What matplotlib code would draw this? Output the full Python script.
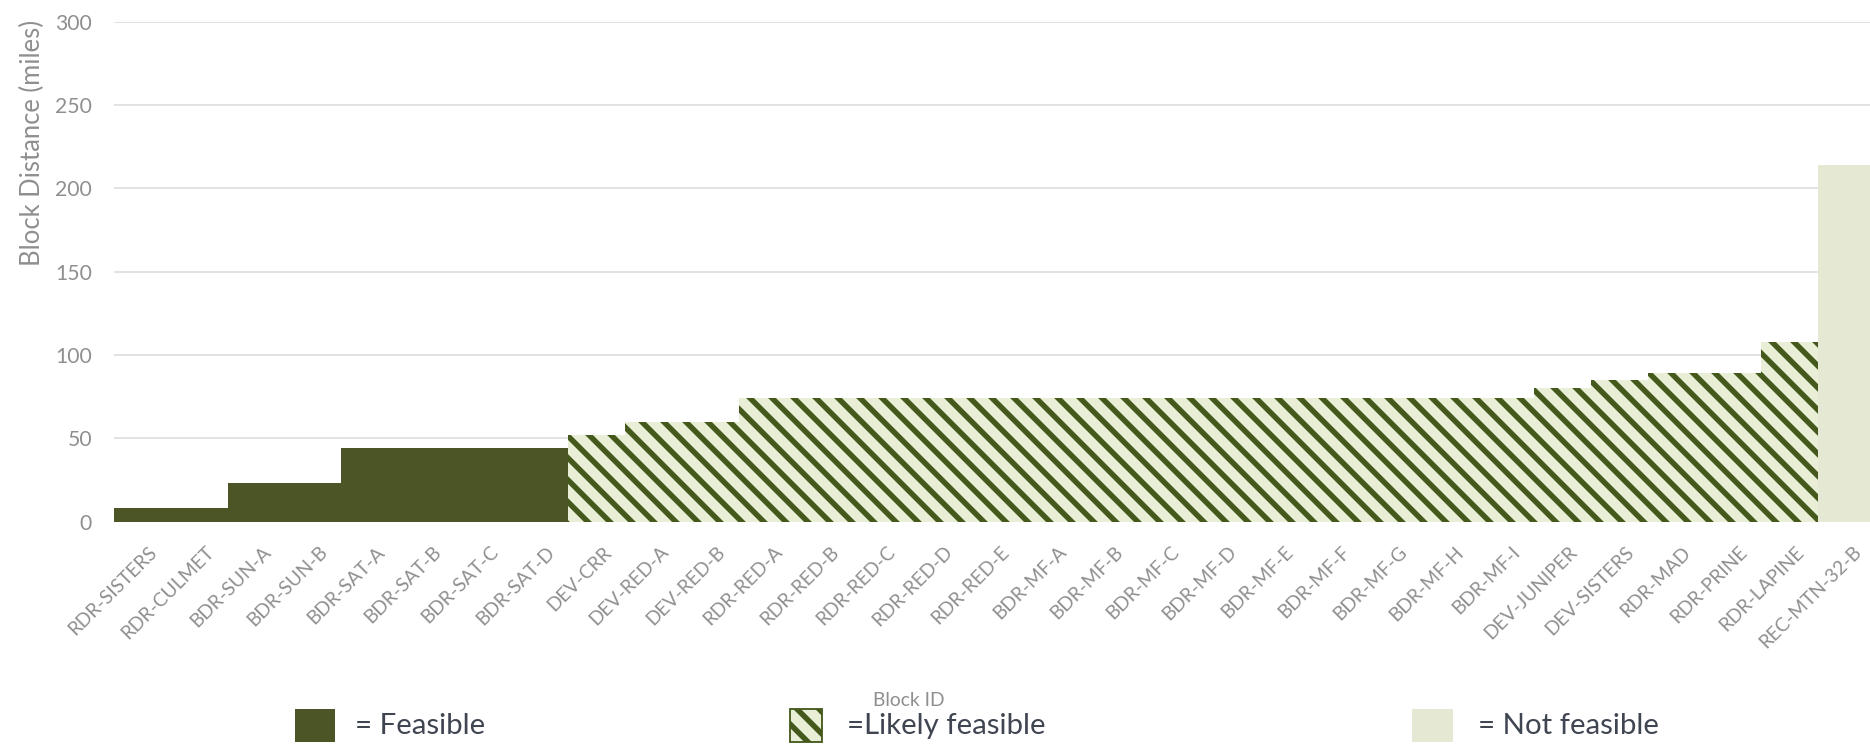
import numpy as np
import matplotlib
matplotlib.use("Agg")
import matplotlib.pyplot as plt
from matplotlib.patches import Rectangle
from matplotlib.transforms import ScaledTranslation

# figure is 1870 x 744 px; dpi picked so the '\\' hatch repeats every ~22 px
DPI = 132
W, H = 1870, 744

plt.rcParams['font.family'] = ['Lato', 'DejaVu Sans']
plt.rcParams['hatch.linewidth'] = 3.0

# -------------------------
# data
# -------------------------
blocks = [
    "RDR-SISTERS", "RDR-CULMET", "BDR-SUN-A", "BDR-SUN-B",
    "BDR-SAT-A", "BDR-SAT-B", "BDR-SAT-C", "BDR-SAT-D",
    "DEV-CRR", "DEV-RED-A", "DEV-RED-B",
    "RDR-RED-A", "RDR-RED-B", "RDR-RED-C", "RDR-RED-D", "RDR-RED-E",
    "BDR-MF-A", "BDR-MF-B", "BDR-MF-C", "BDR-MF-D", "BDR-MF-E",
    "BDR-MF-F", "BDR-MF-G", "BDR-MF-H", "BDR-MF-I",
    "DEV-JUNIPER", "DEV-SISTERS", "RDR-MAD", "RDR-PRINE", "RDR-LAPINE",
    "REC-MTN-32-B",
]
distance = [
    8, 8, 23, 23,
    44, 44, 44, 44,
    52, 60, 60,
    74, 74, 74, 74, 74,
    74, 74, 74, 74, 74,
    74, 74, 74, 74,
    80, 85, 89, 89, 108,
    214,
]
status = (["feasible"] * 8) + (["likely"] * 22) + ["not"]

yticks = [0, 50, 100, 150, 200, 250, 300]

# fill, hatch colour, hatch
styles = {
    "feasible": ("#4b5525", "#4b5525", None),
    "likely": ("#e8efd6", "#44591b", "\\\\"),
    "not": ("#e5e9d3", "#e5e9d3", None),
}

grey = "#8f8f8f"
legend_text = "#404552"

fig = plt.figure(figsize=(W / DPI, H / DPI), dpi=DPI)

# plot area: left edge at 114 px, runs past the right border
left = 114 / W
bottom = (H - 521.7) / H
top = (H - 21.6) / H
ax = fig.add_axes([left, bottom, 1 - left, top - bottom])

x = np.arange(len(blocks))
dist = np.array(distance)
stat = np.array(status)

for key, (face, edge, hatch) in styles.items():
    m = stat == key
    ax.bar(x[m], dist[m], width=1.0, color=face, edgecolor=edge,
           hatch=hatch, linewidth=0, zorder=2)

bar_px = 56.8
ax.set_xlim(-0.5, -0.5 + (W - 114) / bar_px)
ax.set_ylim(0, 300)
ax.set_yticks(yticks)
ax.yaxis.grid(True, color="#e0e0e0", linewidth=1.0, zorder=0)
ax.set_axisbelow(True)
for s in ax.spines.values():
    s.set_visible(False)

ax.tick_params(axis="both", length=0, colors=grey, labelsize=11.5)
ax.tick_params(axis="y", pad=12)
ax.set_xticks(x)
ax.set_xticklabels(blocks, rotation=45, ha="right", va="center",
                   rotation_mode="anchor", fontsize=10.5, color=grey)
ax.tick_params(axis="x", pad=15)
shift = ScaledTranslation(12 / DPI, 0, fig.dpi_scale_trans)
for lab in ax.get_xticklabels():
    lab.set_transform(lab.get_transform() + shift)

fig.text(32 / W, 1 - 143 / H, "Block Distance (miles)", rotation=90,
         ha="center", va="center", fontsize=14, color=grey)
fig.text(909 / W, 1 - 700 / H, "Block ID", ha="center", va="center",
         fontsize=10.5, color=grey)

# -------------------------
# legend row
# -------------------------
legend_items = [
    ("feasible", 295, 40, "= Feasible", 355),
    ("likely", 790, 32, "=Likely feasible", 847),
    ("not", 1412, 41, "= Not feasible", 1478),
]
for key, x0, w, label, tx in legend_items:
    face, edge, hatch = styles[key]
    r = Rectangle((x0 / W, 2 / H), w / W, 33 / H, transform=fig.transFigure,
                  facecolor=face, edgecolor=edge, hatch=hatch,
                  linewidth=1.0 if hatch else 0)
    fig.add_artist(r)
    fig.text(tx / W, 1 - 726 / H, label, ha="left", va="center",
             fontsize=16, color=legend_text)

fig.savefig("out.png", dpi=DPI)
